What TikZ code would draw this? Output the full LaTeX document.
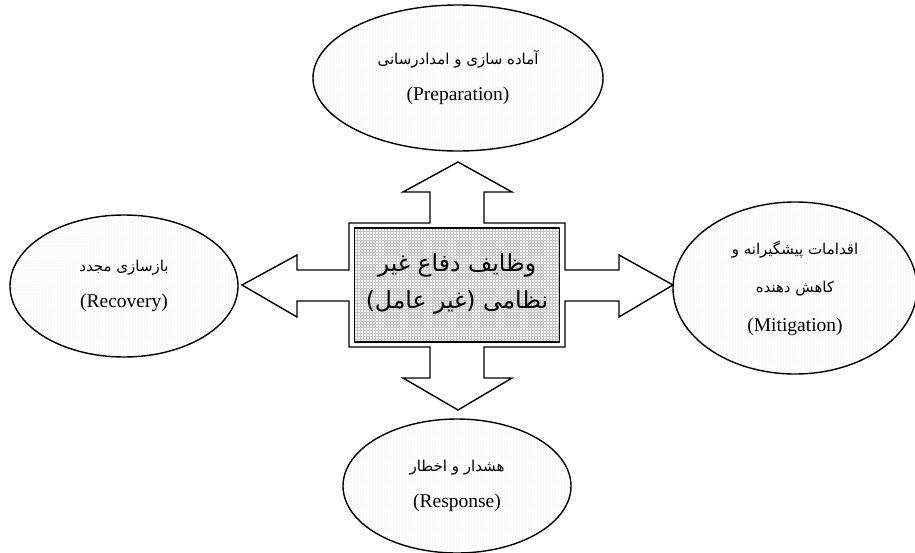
\documentclass[tikz,border=0pt]{standalone}
\usepackage{fontspec}
\setmainfont{Liberation Serif}
\newfontfamily\fa[Script=Arabic]{DejaVu Sans}
\TeXXeTstate=1
\usetikzlibrary{shapes.geometric,patterns}

\newcommand{\faline}[1]{{\fontsize{15}{36}\selectfont\fa\beginR #1\endR}}

\tikzset{
	phase/.style={shape=ellipse,draw=black,line width=1.4pt,inner sep=0pt,align=center,
		preaction={fill=white},pattern=dots,pattern color=gray!30,font=\fontsize{19.5}{36}\selectfont},
	core/.style={shape=rectangle,draw=black,line width=1.4pt,minimum width=205pt,minimum height=114pt,
		align=center,preaction={fill=gray!12},pattern=grid,pattern color=gray!45,font=\fontsize{23.5}{37}\selectfont},
	blockarrow/.style={draw=black,line width=1.4pt,fill=white,line join=miter}
}

\begin{document}
\begin{tikzpicture}[x=1pt,y=-1pt]
	\useasboundingbox (0,0) rectangle (915,552);

	% block arrows round the box
	\draw[blockarrow] (349,223) -- (430,223) -- (430,192) -- (403,192) -- (458,162) -- (512,192) -- (484,192) -- (484,223)
		-- (565,223) -- (565,270) -- (619,270) -- (619,255) -- (673,285) -- (619,317) -- (619,301) -- (565,301)
		-- (565,347) -- (484,347) -- (484,378) -- (512,378) -- (458,410) -- (403,378) -- (430,378) -- (430,347)
		-- (349,347) -- (349,301) -- (297,301) -- (297,317) -- (242,285) -- (297,255) -- (297,270) -- (349,270) -- cycle;

	\node[core,text depth=8pt] (task) at (457,285) {{\fa\beginR وظایف دفاع غیر\endR}\\{\fa\beginR نظامی (غیر عامل)\endR}};

	\node[phase,minimum width=290pt,minimum height=146pt] (prep) at (458,78)  {\faline{آماده سازی و امدادرسانی}\\(Preparation)};
	\node[phase,minimum width=228pt,minimum height=142pt] (recov) at (124,286) {\faline{بازسازی مجدد}\\(Recovery)};
	\node[phase,minimum width=244pt,minimum height=172pt,font=\fontsize{19.5}{38.5}\selectfont] (mitig) at (795,288) {\faline{اقدامات پیشگیرانه و}\\\faline{کاهش دهنده}\\(Mitigation)};
	\node[phase,minimum width=228pt,minimum height=134pt] (resp) at (457,486) {\faline{هشدار و اخطار}\\(Response)};
\end{tikzpicture}
\end{document}
